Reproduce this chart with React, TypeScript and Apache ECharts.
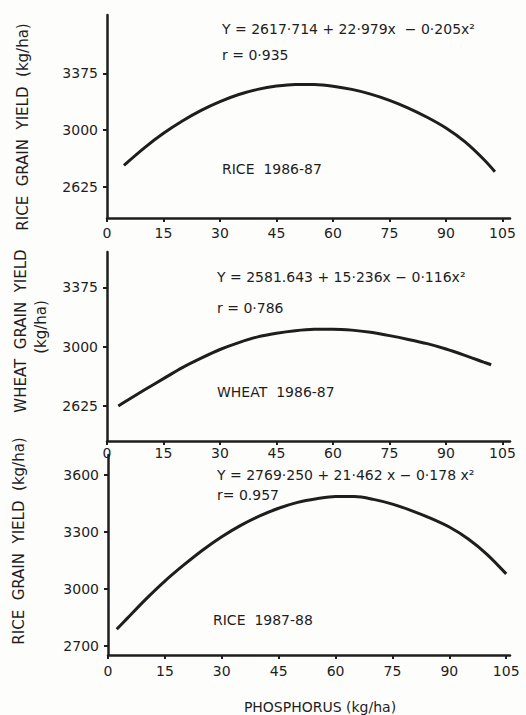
import React, { useEffect, useRef } from "react";
import * as echarts from "echarts";

// ---- data ----
const xTickValues = [0, 15, 30, 45, 60, 75, 90, 105];

const rice8687Ticks = [2625, 3000, 3375];
const rice8687X = [4.5, 10, 15, 20, 25, 30, 35, 40, 45, 50, 55, 60, 65, 70, 75, 80, 85, 90, 95, 100, 103];
const rice8687Y = [2768, 2885, 2979, 3060, 3130, 3188, 3235, 3269, 3291, 3302, 3301, 3290, 3269, 3238, 3197, 3146, 3085, 3014, 2924, 2808, 2726];

const wheat8687Ticks = [2625, 3000, 3375];
const wheat8687X = [3, 5, 10, 15, 20, 25, 30, 35, 40, 45, 50, 55, 60, 65, 70, 75, 80, 85, 90, 95, 100, 102];
const wheat8687Y = [2622, 2652, 2725, 2796, 2866, 2926, 2981, 3025, 3061, 3084, 3100, 3109, 3110, 3104, 3090, 3069, 3045, 3018, 2984, 2944, 2901, 2884];

const rice8788Ticks = [2700, 3000, 3300, 3600];
const rice8788X = [2.3, 5, 10, 15, 20, 25, 30, 35, 40, 45, 50, 55, 60, 65, 70, 75, 80, 85, 90, 95, 100, 105];
const rice8788Y = [2786, 2842, 2945, 3040, 3125, 3204, 3274, 3334, 3384, 3424, 3455, 3474, 3486, 3486, 3471, 3446, 3412, 3372, 3325, 3262, 3180, 3078];

const eq1 = "Y = 2617·714 + 22·979x  − 0·205x²";
const r1 = "r = 0·935";
const lab1 = "RICE  1986-87";
const eq2 = "Y = 2581.643 + 15·236x − 0·116x²";
const r2 = "r = 0·786";
const lab2 = "WHEAT  1986-87";
const eq3 = "Y = 2769·250 + 21·462 x − 0·178 x²";
const r3 = "r= 0.957";
const lab3 = "RICE  1987-88";

const yName1 = "RICE  GRAIN  YIELD  (kg/ha)";
const yName2a = "WHEAT  GRAIN  YIELD";
const yName2b = "(kg/ha)";
const yName3 = "RICE  GRAIN  YIELD  (kg/ha)";
const xName = "PHOSPHORUS (kg/ha)";

const INK = "#1e1e1e";
const FONT = "DejaVu Sans";

function zip(xs: number[], ys: number[]) {
  return xs.map((x, i) => [x, ys[i]]);
}

export default function App() {
  const ref = useRef<HTMLDivElement>(null);
  useEffect(() => {
    if (!ref.current) return;
    const chart = echarts.init(ref.current, null, { renderer: "svg" });

    const xAxisBase = (gridIndex: number, max: number, margin: number) => ({
      type: "value",
      gridIndex,
      min: 0,
      max,
      axisLine: { show: true, lineStyle: { color: INK, width: 2.5 } },
      axisTick: { show: true, length: 4, customValues: xTickValues, lineStyle: { color: INK, width: 2 } },
      axisLabel: {
        customValues: xTickValues,
        color: INK,
        fontFamily: FONT,
        fontSize: 14,
        margin,
        formatter: (v: number) => String(v),
      },
      splitLine: { show: false },
    });

    const yAxisBase = (gridIndex: number, min: number, max: number, ticks: number[]) => ({
      type: "value",
      gridIndex,
      min,
      max,
      axisLine: { show: true, lineStyle: { color: INK, width: 2.5 } },
      axisTick: { show: true, length: 4, customValues: ticks, lineStyle: { color: INK, width: 2 } },
      axisLabel: {
        customValues: ticks,
        color: INK,
        fontFamily: FONT,
        fontSize: 14,
        margin: 9,
        formatter: (v: number) => String(v),
      },
      splitLine: { show: false },
    });

    const lineSeries = (idx: number, data: number[][]) => ({
      type: "line",
      xAxisIndex: idx,
      yAxisIndex: idx,
      data,
      smooth: 0.3,
      showSymbol: false,
      lineStyle: { color: INK, width: 3 },
    });

    const txt = (x: number, y: number, text: string, extra: any = {}) => ({
      type: "text",
      x,
      y,
      style: {
        text,
        fill: INK,
        font: `14px "${FONT}"`,
        textVerticalAlign: "middle",
        ...extra,
      },
    });

    const vtxt = (x: number, y: number, text: string) => ({
      type: "text",
      x,
      y,
      rotation: Math.PI / 2,
      style: {
        text,
        fill: INK,
        font: `15px "${FONT}"`,
        textAlign: "center",
        textVerticalAlign: "middle",
      },
    });

    chart.setOption({
      animation: false,
      backgroundColor: "#fdfdfc",
      grid: [
        { left: 107, top: 15, width: 403, height: 203 },
        { left: 107, top: 252, width: 403, height: 189 },
        { left: 108, top: 455, width: 402, height: 200 },
      ],
      xAxis: [
        xAxisBase(0, 107, 8),
        xAxisBase(1, 107, 5),
        xAxisBase(2, 106, 9),
      ],
      yAxis: [
        yAxisBase(0, 2420, 3760, rice8687Ticks),
        yAxisBase(1, 2400, 3600, wheat8687Ticks),
        yAxisBase(2, 2650, 3705, rice8788Ticks),
      ],
      series: [
        lineSeries(0, zip(rice8687X, rice8687Y)),
        lineSeries(1, zip(wheat8687X, wheat8687Y)),
        lineSeries(2, zip(rice8788X, rice8788Y)),
      ],
      graphic: [
        txt(222, 29, eq1),
        txt(222, 55, r1),
        txt(222, 169, lab1),
        txt(217, 277, eq2),
        txt(217, 308, r2),
        txt(217, 392, lab2),
        txt(217, 475, eq3),
        txt(217, 495, r3),
        txt(213, 620, lab3),
        txt(320, 707, xName, { textAlign: "center" }),
        vtxt(23, 127, yName1),
        vtxt(21, 331, yName2a),
        vtxt(41, 327, yName2b),
        vtxt(19, 541, yName3),
      ],
    });
    return () => chart.dispose();
  }, []);
  return (
    <div
      ref={ref}
      style={{ position: "fixed", left: 0, top: 0, width: 526, height: 715 }}
    />
  );
}
